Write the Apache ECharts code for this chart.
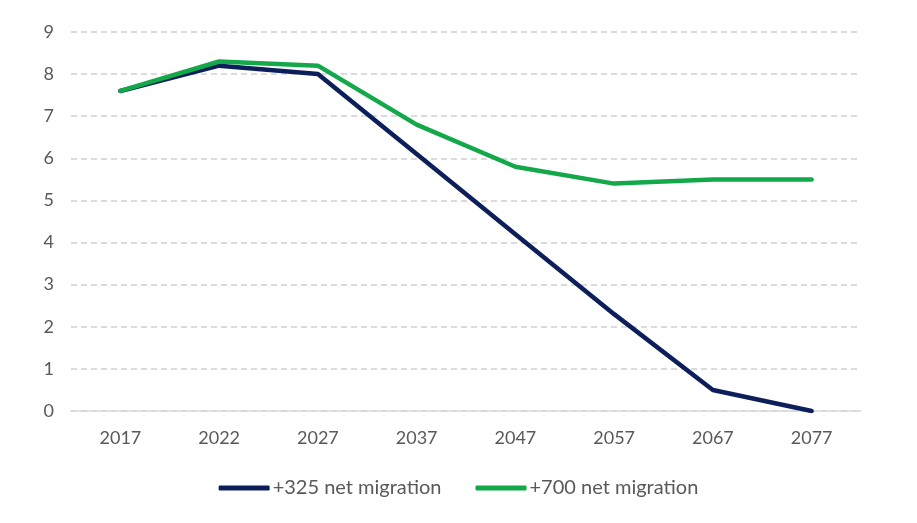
<!DOCTYPE html>
<html>
<head>
<meta charset="utf-8">
<script src="https://cdn.jsdelivr.net/npm/echarts@6/dist/echarts.min.js"></script>
<style>
  html, body { margin: 0; padding: 0; background: #fff; }
  #chart { width: 917px; height: 523px; }
</style>
</head>
<body>
<div id="chart"></div>
<script>
(function() {
  'use strict';

  // --- Data ---
  var years = ['2017', '2022', '2027', '2037', '2047', '2057', '2067', '2077'];
  var low = [7.6, 8.2, 8.0, 6.1, 4.2, 2.3, 0.5, 0.0];
  var high = [7.6, 8.3, 8.2, 6.8, 5.8, 5.4, 5.5, 5.5];
  var seriesNames = ['+325 net migration', '+700 net migration'];

  var NAVY = '#0c1f5a';
  var GREEN = '#13a84a';
  var FONT = 'Lato, "Open Sans", sans-serif';

  var chart = echarts.init(document.getElementById('chart'), null, { renderer: 'canvas' });

  chart.setOption({
    animation: false,
    grid: { left: 71, right: 56, top: 32, bottom: 112 },
    legend: {
      bottom: 20,
      left: 'center',
      itemGap: 34,
      itemWidth: 51,
      itemHeight: 5,
      icon: 'roundRect',
      textStyle: { fontFamily: FONT, fontSize: 20, color: '#595959', padding: [0, 0, 0, -2] },
      data: seriesNames
    },
    xAxis: {
      type: 'category',
      data: years,
      boundaryGap: true,
      axisLine: { show: true, lineStyle: { color: '#d9d9d9', width: 1.5 } },
      axisTick: { show: false },
      axisLabel: { fontFamily: FONT, fontSize: 18, color: '#595959', margin: 18 }
    },
    yAxis: {
      type: 'value',
      min: 0,
      max: 9,
      interval: 1,
      axisLine: { show: false },
      axisTick: { show: false },
      axisLabel: { fontFamily: FONT, fontSize: 18, color: '#595959', margin: 17 },
      splitLine: { lineStyle: { color: '#d0d0d0', type: [6, 4], width: 1.5 } }
    },
    series: [
      {
        name: seriesNames[0],
        type: 'line',
        data: low,
        symbol: 'none',
        lineStyle: { color: NAVY, width: 4.5, cap: 'round', join: 'round' },
        itemStyle: { color: NAVY }
      },
      {
        name: seriesNames[1],
        type: 'line',
        data: high,
        symbol: 'none',
        lineStyle: { color: GREEN, width: 4.5, cap: 'round', join: 'round' },
        itemStyle: { color: GREEN }
      }
    ]
  });
})();
</script>
</body>
</html>
